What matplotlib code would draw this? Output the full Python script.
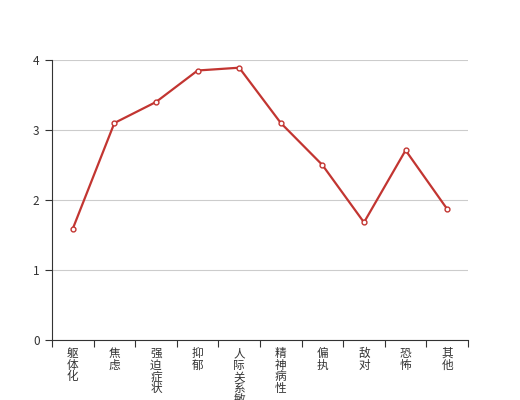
import matplotlib
matplotlib.use("Agg")
import matplotlib.pyplot as plt
import numpy as np

plt.rcParams['font.family'] = ['Noto Sans CJK SC', 'DejaVu Sans']

# ~~~~~~~~ data ~~~~~~~~
categories = ["躯体化", "焦虑", "强迫症状", "抑郁", "人际关系敏感",
              "精神病性", "偏执", "敌对", "恐怖", "其他"]
scores = [1.59, 3.1, 3.4, 3.85, 3.89, 3.1, 2.5, 1.68, 2.71, 1.87]
y_ticks = [0, 1, 2, 3, 4]

# ~~~~~~~~ figure ~~~~~~~~
fig = plt.figure(figsize=(5.2, 4), dpi=100)
ax = fig.add_axes([0.1, 0.15, 0.8, 0.7])

x = np.arange(len(categories))
ax.plot(x, scores, color="#c23531", lw=1.6, marker="o", ms=3.5,
        mfc="white", mec="#c23531", mew=1.0, zorder=3)

ax.set_xlim(-0.5, len(categories) - 0.5)
ax.set_ylim(0, 4)
ax.set_yticks(y_ticks)
ax.yaxis.grid(True, color="#cccccc", lw=0.8)
ax.set_axisbelow(True)

# ticks sit between categories; labels are written one char per row
ax.set_xticks(np.arange(-0.5, len(categories)))
ax.set_xticklabels([])
ax.tick_params(axis="x", length=5, color="#333333", width=0.8)
for i, name in enumerate(categories):
    for j, ch in enumerate(name):
        ax.annotate(ch, xy=(i, 0), xycoords=("data", "axes fraction"),
                    xytext=(0, -7 - j * 11.7), textcoords="offset pixels",
                    ha="center", va="top", fontsize=8.4, color="#333333",
                    annotation_clip=False)

ax.tick_params(axis="y", length=5, color="#333333", width=0.8,
               labelsize=8.5, labelcolor="#333333", pad=4)

for s in ["top", "right"]:
    ax.spines[s].set_visible(False)
for s in ["left", "bottom"]:
    ax.spines[s].set_color("#333333")
    ax.spines[s].set_linewidth(0.8)

fig.savefig("out.png", dpi=100)
